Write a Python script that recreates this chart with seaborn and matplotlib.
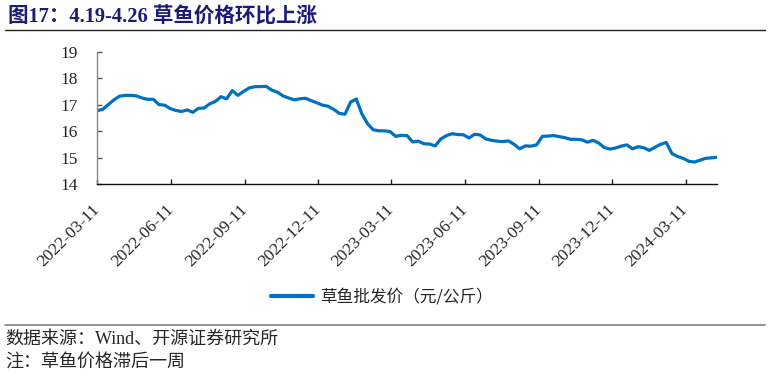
import pandas as pd
import matplotlib
matplotlib.use("Agg")
import matplotlib.pyplot as plt
import matplotlib.dates as mdates
from matplotlib.lines import Line2D
import seaborn as sns

# ==========================
# Data: weekly grass carp wholesale price (yuan/kg)
# ==========================
start_date = "2022-03-11"
n_weeks = 111
prices = [
    16.77, 16.82, 17.00, 17.18, 17.32, 17.35, 17.35, 17.33, 17.25, 17.20,
    17.20, 17.00, 16.98, 16.85, 16.78, 16.74, 16.80, 16.71, 16.86, 16.87,
    17.03, 17.12, 17.30, 17.22, 17.53, 17.35, 17.50, 17.63, 17.68, 17.68,
    17.69, 17.55, 17.47, 17.33, 17.25, 17.18, 17.22, 17.24, 17.15, 17.07,
    16.98, 16.94, 16.82, 16.67, 16.64, 17.10, 17.21, 16.65, 16.28, 16.05,
    16.01, 16.01, 15.98, 15.80, 15.84, 15.83, 15.59, 15.62, 15.52, 15.51,
    15.44, 15.70, 15.83, 15.90, 15.87, 15.86, 15.74, 15.88, 15.85, 15.70,
    15.65, 15.62, 15.60, 15.63, 15.50, 15.33, 15.44, 15.43, 15.48, 15.80,
    15.81, 15.83, 15.79, 15.75, 15.69, 15.69, 15.67, 15.58, 15.65, 15.55,
    15.38, 15.32, 15.36, 15.43, 15.48, 15.33, 15.41, 15.37, 15.27, 15.39,
    15.50, 15.57, 15.15, 15.04, 14.97, 14.86, 14.83, 14.90, 14.97, 14.99,
    15.01,
]
tick_dates = ["2022-03-11", "2022-06-11", "2022-09-11", "2022-12-11", "2023-03-11",
              "2023-06-11", "2023-09-11", "2023-12-11", "2024-03-11"]
y_ticks = [14, 15, 16, 17, 18, 19]

series_name = "草鱼批发价（元/公斤）"
title = "图17：4.19-4.26 草鱼价格环比上涨"
source_note = "数据来源：Wind、开源证券研究所"
lag_note = "注：草鱼价格滞后一周"

df = pd.DataFrame({
    "date": pd.date_range(start_date, periods=n_weeks, freq="7D"),
    "price": prices,
})

# ==========================
# Plot
# ==========================
sns.set_style("ticks")
plt.rcParams["font.family"] = ["Liberation Serif", "Noto Sans CJK SC"]

fig = plt.figure(figsize=(7.69, 3.75), dpi=100)
ax = fig.add_axes([97 / 769, 1 - 184 / 375, 620 / 769, 132.3 / 375])

blue = "#0070C0"
sns.lineplot(data=df, x="date", y="price", ax=ax, color=blue, linewidth=2.3, legend=False)

ax.set_xlim(df["date"].iloc[0], df["date"].iloc[-1])
ax.set_ylim(14, 19)
ax.set_yticks(y_ticks)
ax.set_xticks(pd.to_datetime(tick_dates))
ax.xaxis.set_major_formatter(mdates.DateFormatter("%Y-%m-%d"))
ax.set_xlabel("")
ax.set_ylabel("")

ax.tick_params(axis="y", direction="in", length=3.6, width=1, color="#555555",
               labelsize=12.5, pad=14)
ax.tick_params(axis="x", direction="in", length=3.6, width=1, color="#222222",
               labelsize=12.5, pad=16.5)
for lbl in ax.get_xticklabels():
    lbl.set_rotation(45)
    lbl.set_rotation_mode("anchor")
    lbl.set_ha("right")
    lbl.set_va("center")

sns.despine(ax=ax)
ax.spines["left"].set_color("#8a8a8a")
ax.spines["left"].set_linewidth(1.0)
ax.spines["bottom"].set_color("#111111")
ax.spines["bottom"].set_linewidth(1.0)

# legend
handle = Line2D([], [], color=blue, linewidth=3)
fig.legend([handle], [series_name], loc="center", bbox_to_anchor=(382 / 769, 1 - 297 / 375),
           frameon=False, handlelength=2.5, handletextpad=0.45,
           prop={"family": ["Noto Sans CJK SC"], "size": 12})

# title + rules + notes
fig.text(8 / 769, 1 - 17.5 / 375, title, ha="left", va="center", fontsize=14.8,
         fontweight="bold", color="#1c1c78",
         family=["Liberation Serif", "Noto Sans CJK SC"])
fig.add_artist(Line2D([5 / 769, 765 / 769], [1 - 29.5 / 375] * 2, color="#222222", linewidth=1.0))
fig.add_artist(Line2D([5 / 769, 765 / 769], [1 - 325 / 375] * 2, color="#8c8c8c", linewidth=1.3))
fig.text(5 / 769, 1 - 339 / 375, source_note, ha="left", va="center", fontsize=13,
         family=["Liberation Serif", "Noto Sans CJK SC"])
fig.text(5 / 769, 1 - 361.5 / 375, lag_note, ha="left", va="center", fontsize=13,
         family=["Noto Sans CJK SC"])

fig.savefig("out.png", dpi=100)
